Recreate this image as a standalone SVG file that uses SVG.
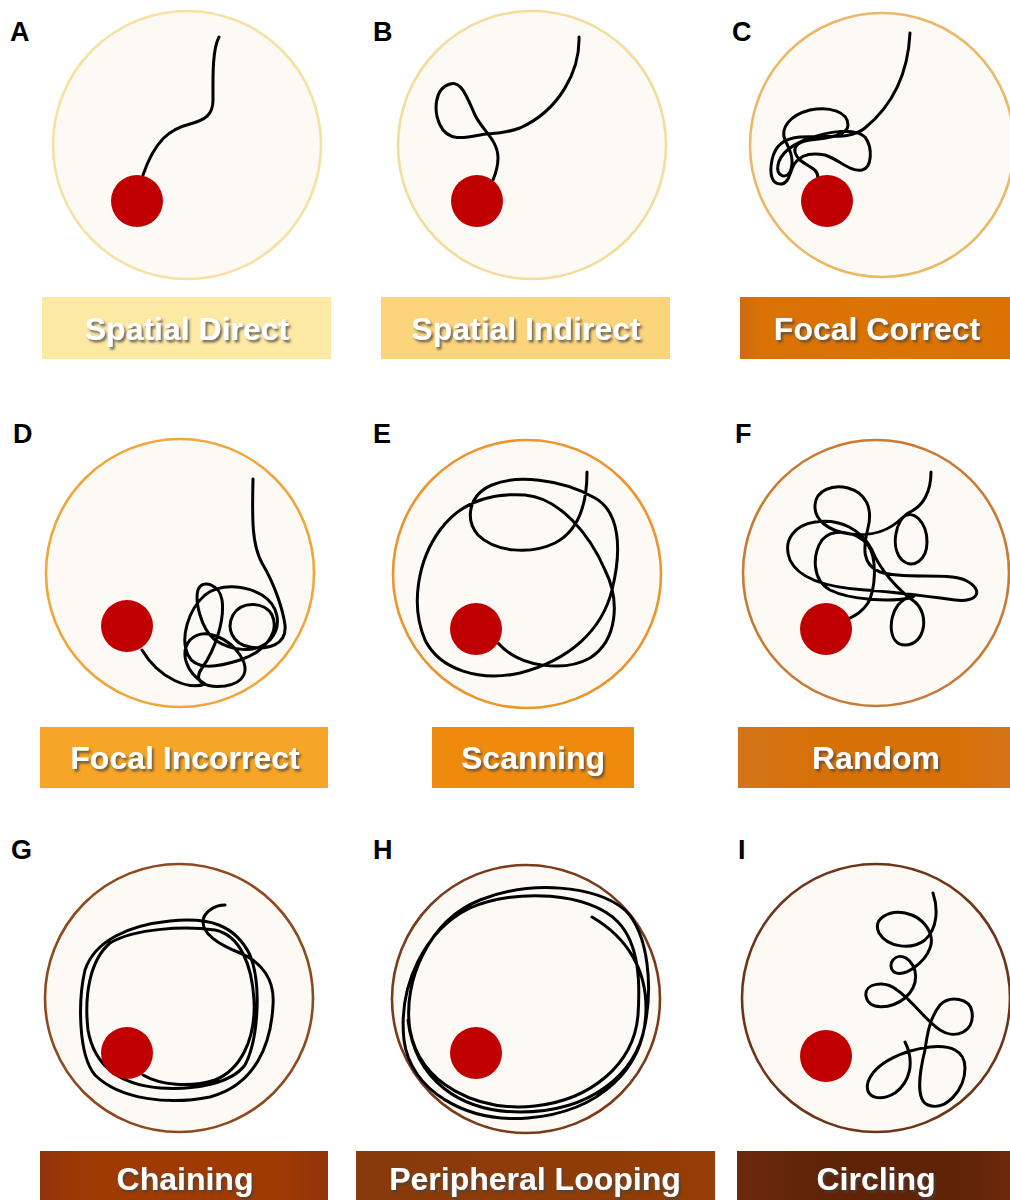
<svg xmlns="http://www.w3.org/2000/svg" width="1010" height="1200" viewBox="0 0 1010 1200">
<style>
.plate{fill:#fdfaf6;stroke-width:2.6}
.dot{fill:#c00000}
.trk{fill:none;stroke:#000;stroke-width:3;stroke-linecap:round;stroke-linejoin:round}
.lbl{font-family:"Liberation Sans",Arial,sans-serif;font-weight:bold;font-size:32px;fill:#fff;text-anchor:middle;filter:url(#ts)}
.let{font-family:"Liberation Sans",Arial,sans-serif;font-weight:bold;font-size:27px;fill:#000}
</style>
<defs>
<filter id="ts" x="-10%" y="-30%" width="120%" height="170%"><feDropShadow dx="2" dy="2.5" stdDeviation="1" flood-color="#444" flood-opacity="0.75"/></filter>
<linearGradient id="gC" x1="0" x2="1" y1="0" y2="0"><stop offset="0" stop-color="#cd6a14"/><stop offset="0.08" stop-color="#da7205"/><stop offset="1" stop-color="#db7304"/></linearGradient>
<linearGradient id="gF" x1="0" x2="1" y1="0" y2="0"><stop offset="0" stop-color="#d4741a"/><stop offset="0.3" stop-color="#d87008"/><stop offset="0.8" stop-color="#d87008"/><stop offset="1" stop-color="#d4741a"/></linearGradient>
<linearGradient id="gG" x1="0" x2="1" y1="0" y2="0"><stop offset="0" stop-color="#92340a"/><stop offset="0.2" stop-color="#9f3a03"/><stop offset="0.8" stop-color="#a03a02"/><stop offset="1" stop-color="#92350a"/></linearGradient>
<linearGradient id="gH" x1="0" x2="1" y1="0" y2="0"><stop offset="0" stop-color="#873a0c"/><stop offset="1" stop-color="#953d04"/></linearGradient>
<linearGradient id="gI" x1="0" x2="1" y1="0" y2="0"><stop offset="0" stop-color="#6c2a0c"/><stop offset="0.3" stop-color="#5f2308"/><stop offset="0.8" stop-color="#5f2308"/><stop offset="1" stop-color="#6c2a0c"/></linearGradient>
</defs>
<rect width="1010" height="1200" fill="#fff"/>

<g id="panelA">
<text class="let" x="10" y="41">A</text>
<circle class="plate" cx="187" cy="145" r="134" stroke="#f6e1a2"/>
<path class="trk" d="M219,37 C212,50 213,80 213,100 C213,115 205,120 190,124 C170,129 155,140 143,175"/>
<circle class="dot" cx="137" cy="201" r="26"/>
<rect x="42" y="297" width="289" height="62" fill="#fce9a4"/>
<text class="lbl" x="187" y="340">Spatial Direct</text>
</g>

<g id="panelB">
<text class="let" x="373" y="41">B</text>
<circle class="plate" cx="532" cy="145" r="134" stroke="#f5dc9c"/>
<path class="trk" d="M579,37 C580,70 560,110 520,128 C500,135 490,133 480,135 C465,138 448,142 440,125 C433,110 435,88 450,84 C462,80 468,100 475,115 C482,130 498,140 498,158 C498,168 495,175 493,180"/>
<circle class="dot" cx="477" cy="201" r="26"/>
<rect x="381" y="297" width="289" height="62" fill="#fcd47b"/>
<text class="lbl" x="526" y="340">Spatial Indirect</text>
</g>

<g id="panelC">
<text class="let" x="732" y="41">C</text>
<circle class="plate" cx="882" cy="145" r="132" stroke="#ebb867"/>
<path class="trk" d="M910,33 C908,75 893,105 865,128 C850,140 830,135 800,137 C785,138 775,145 772,160 C769,175 772,185 782,184 C790,182 790,170 795,163 C800,156 810,152 825,155 C840,160 850,172 862,170 C872,168 873,148 865,137 C855,128 830,130 805,140 C790,146 780,155 778,165 C776,175 785,180 790,172 C795,160 790,150 785,140 C780,128 790,115 810,110 C830,106 848,112 848,125 C848,135 830,138 810,140 C795,142 790,150 800,160 C808,167 818,168 818,178"/>
<circle class="dot" cx="827" cy="201" r="26"/>
<rect x="740" y="297" width="272" height="62" fill="url(#gC)"/>
<text class="lbl" x="877" y="340">Focal Correct</text>
</g>

<g id="panelD">
<text class="let" x="13" y="443">D</text>
<circle class="plate" cx="180" cy="573" r="134" stroke="#efa73c"/>
<path class="trk" d="M253,479 C252,520 252,545 262,563 C275,585 283,610 285,625 C287,645 268,650 250,647 C232,644 226,628 233,615 C242,600 265,602 272,615 C280,632 265,652 240,660 C215,668 195,670 188,655 C180,638 188,610 205,595 C220,583 245,585 262,595 C278,605 283,625 270,640 C255,655 230,650 215,640 C200,628 195,600 198,590 C202,578 220,585 222,600 C225,620 215,650 202,668 C192,682 205,688 225,686 C245,683 250,670 240,655 C230,640 205,625 190,640 C180,652 185,672 205,684 C190,690 160,680 142,650"/>
<circle class="dot" cx="127" cy="626" r="26"/>
<rect x="40" y="727" width="288" height="61" fill="#f6a526"/>
<text class="lbl" x="185" y="769">Focal Incorrect</text>
</g>

<g id="panelE">
<text class="let" x="373" y="443">E</text>
<circle class="plate" cx="527" cy="574" r="134" stroke="#ea952f"/>
<path class="trk" d="M587,472 C587,500 580,530 555,543 C530,555 495,552 478,535 C465,520 468,495 492,485 C515,475 560,478 595,498 C620,512 622,550 612,590 C602,630 570,660 520,673 C480,682 440,670 425,640 C410,605 418,560 440,530 C462,500 495,493 525,495 C560,498 590,535 605,570 C620,600 618,640 590,658 C565,672 520,668 498,643"/>
<circle class="dot" cx="476" cy="629" r="26"/>
<rect x="432" y="727" width="202" height="61" fill="#ef8a0e"/>
<text class="lbl" x="533" y="769">Scanning</text>
</g>

<g id="panelF">
<text class="let" x="735" y="443">F</text>
<circle class="plate" cx="876" cy="573" r="133" stroke="#c97a34"/>
<path class="trk" d="M931,472 C931,492 923,506 910,512 C895,519 890,548 902,560 C913,570 927,560 927,542 C927,522 913,508 902,518 C890,530 872,537 850,534 C828,531 814,520 815,505 C816,490 833,484 848,488 C866,493 873,508 868,528 C863,548 862,565 880,572 C905,580 945,572 965,580 C985,590 978,603 955,600 C925,596 895,592 865,590 C835,588 800,582 790,560 C782,540 795,525 815,522 C840,518 862,530 872,550 C880,570 898,590 915,602 C930,615 925,645 905,645 C888,645 888,618 898,605 C910,592 920,595 910,598 C890,602 850,600 830,590 C812,580 812,555 822,540 C832,528 855,530 868,545 C878,560 875,590 868,603 C862,612 856,615 850,618"/>
<circle class="dot" cx="826" cy="629" r="26"/>
<rect x="738" y="727" width="274" height="61" fill="url(#gF)"/>
<text class="lbl" x="876" y="769">Random</text>
</g>

<g id="panelG">
<text class="let" x="11" y="859">G</text>
<circle class="plate" cx="179" cy="998" r="134" stroke="#8e4a1f"/>
<path class="trk" d="M225,905 C215,905 203,912 203,922 C203,935 220,945 240,953 C262,962 275,980 273,1005 C271,1045 255,1085 210,1097 C170,1105 120,1100 95,1075 C78,1055 78,1000 85,970 C95,940 130,925 170,921 C210,917 235,925 250,955 C262,985 258,1040 245,1065 C230,1085 190,1090 160,1088 C125,1085 95,1070 88,1030 C84,995 90,960 110,943 C135,928 185,926 215,930 C240,935 252,965 254,1000 C256,1040 240,1070 215,1080 C190,1088 160,1085 143,1075"/>
<circle class="dot" cx="127" cy="1053" r="26"/>
<rect x="40" y="1151" width="288" height="55" fill="url(#gG)"/>
<text class="lbl" x="185" y="1190">Chaining</text>
</g>

<g id="panelH">
<text class="let" x="373" y="859">H</text>
<circle class="plate" cx="526" cy="999" r="134" stroke="#7a3b1a"/>
<path class="trk" d="M592,917 C628,938 646,970 646,1008 C646,1068 600,1112 528,1118 C465,1123 410,1090 404,1040 C398,985 425,930 470,908 C515,888 590,892 618,922 C640,945 640,985 638,1015 C634,1065 590,1100 535,1106 C478,1112 420,1085 410,1030 C402,980 430,920 480,900 C530,880 595,885 625,910 C650,935 652,990 645,1025 C636,1075 590,1112 520,1112 C460,1112 415,1080 408,1020"/>
<circle class="dot" cx="476" cy="1053" r="26"/>
<rect x="356" y="1151" width="359" height="55" fill="url(#gH)"/>
<text class="lbl" x="535" y="1190">Peripheral Looping</text>
</g>

<g id="panelI">
<text class="let" x="738" y="859">I</text>
<circle class="plate" cx="876" cy="998" r="134" stroke="#6e3418"/>
<path class="trk" d="M933,893 C938,908 938,928 925,940 C912,950 888,948 879,933 C872,918 890,910 905,913 C925,917 935,935 930,948 C925,962 905,978 894,972 C886,965 895,952 906,958 C918,966 920,985 905,998 C890,1010 868,1010 866,996 C864,983 885,980 897,990 C912,1000 925,1020 940,1030 C955,1040 975,1032 972,1012 C970,998 950,995 940,1005 C930,1017 927,1035 925,1050 C920,1070 915,1100 928,1105 C945,1112 965,1090 965,1068 C965,1050 950,1045 930,1047 C905,1050 875,1062 868,1082 C864,1098 880,1102 895,1093 C910,1082 915,1062 905,1042"/>
<circle class="dot" cx="826" cy="1056" r="26"/>
<rect x="737" y="1151" width="275" height="55" fill="url(#gI)"/>
<text class="lbl" x="876" y="1190">Circling</text>
</g>
</svg>
